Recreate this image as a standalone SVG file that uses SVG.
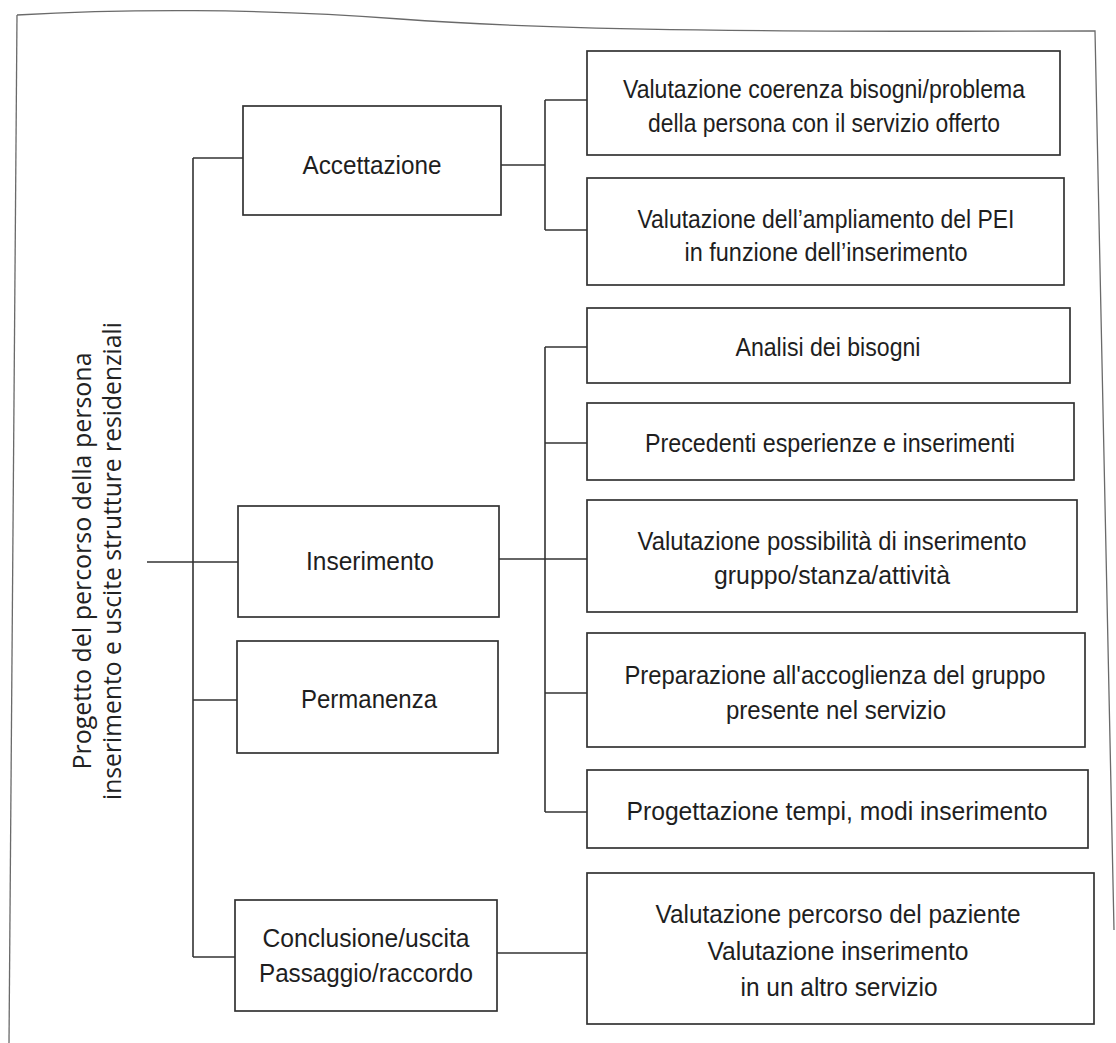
<svg xmlns="http://www.w3.org/2000/svg" width="1116" height="1043" viewBox="0 0 1116 1043">
<style>
.bg{fill:#ffffff}
.frame{fill:none;stroke:#6a6a6a;stroke-width:1.3}
.box{fill:#ffffff;stroke:#333333;stroke-width:1.7}
.con{fill:none;stroke:#333333;stroke-width:1.6}
.t{font-family:"Liberation Sans",Arial,sans-serif;font-size:26px;fill:#1e1e1e;text-anchor:middle;dominant-baseline:central}
.root{font-family:"Open Sans","Noto Sans",sans-serif;font-size:25px;fill:#222222;text-anchor:middle}
</style>
<rect class="bg" x="0" y="0" width="1116" height="1043"/>
<g id="frame">
<path class="frame" d="M17,15 C120,9 260,8 400,19 C560,31 800,32 1095,31 L1114,930"/>
<path class="frame" d="M17,15 L9,1043"/>
</g>
<g id="connectors">
<path class="con" d="M147,562 H238"/>
<path class="con" d="M193,158 V957"/>
<path class="con" d="M193,158 H243"/>
<path class="con" d="M193,700 H237"/>
<path class="con" d="M193,957 H235"/>
<path class="con" d="M501,165 H545"/>
<path class="con" d="M545,100 V230"/>
<path class="con" d="M545,100 H587"/>
<path class="con" d="M545,230 H587"/>
<path class="con" d="M499,559 H587"/>
<path class="con" d="M545,347 V812"/>
<path class="con" d="M545,347 H587"/>
<path class="con" d="M545,443 H587"/>
<path class="con" d="M545,693 H587"/>
<path class="con" d="M545,812 H587"/>
<path class="con" d="M497,953 H587"/>
</g>
<g id="root">
<text class="root" transform="translate(91,561) rotate(-90)" textLength="417" lengthAdjust="spacingAndGlyphs">Progetto del percorso della persona</text>
<text class="root" transform="translate(121,561) rotate(-90)" textLength="478" lengthAdjust="spacingAndGlyphs">inserimento e uscite strutture residenziali</text>
</g>
<g id="accettazione">
<rect class="box" x="243" y="106" width="258" height="109"/>
<text class="t" x="372" y="165" textLength="139" lengthAdjust="spacingAndGlyphs">Accettazione</text>
</g>
<g id="inserimento">
<rect class="box" x="238" y="506" width="261" height="111"/>
<text class="t" x="370" y="561" textLength="128" lengthAdjust="spacingAndGlyphs">Inserimento</text>
</g>
<g id="permanenza">
<rect class="box" x="237" y="641" width="261" height="112"/>
<text class="t" x="369" y="699" textLength="136" lengthAdjust="spacingAndGlyphs">Permanenza</text>
</g>
<g id="conclusione">
<rect class="box" x="235" y="900" width="262" height="111"/>
<text class="t" x="366" y="938" textLength="207" lengthAdjust="spacingAndGlyphs">Conclusione/uscita</text>
<text class="t" x="366" y="973" textLength="214" lengthAdjust="spacingAndGlyphs">Passaggio/raccordo</text>
</g>
<g id="coerenza">
<rect class="box" x="587" y="51" width="473" height="104"/>
<text class="t" x="824" y="89" textLength="402" lengthAdjust="spacingAndGlyphs">Valutazione coerenza bisogni/problema</text>
<text class="t" x="824" y="123" textLength="352" lengthAdjust="spacingAndGlyphs">della persona con il servizio offerto</text>
</g>
<g id="ampliamento">
<rect class="box" x="587" y="178" width="477" height="107"/>
<text class="t" x="826" y="219" textLength="377" lengthAdjust="spacingAndGlyphs">Valutazione dell’ampliamento del PEI</text>
<text class="t" x="826" y="252" textLength="283" lengthAdjust="spacingAndGlyphs">in funzione dell’inserimento</text>
</g>
<g id="analisi">
<rect class="box" x="587" y="308" width="483" height="75"/>
<text class="t" x="828" y="347" textLength="185" lengthAdjust="spacingAndGlyphs">Analisi dei bisogni</text>
</g>
<g id="precedenti">
<rect class="box" x="587" y="403" width="487" height="77"/>
<text class="t" x="830" y="443" textLength="370" lengthAdjust="spacingAndGlyphs">Precedenti esperienze e inserimenti</text>
</g>
<g id="possibilita">
<rect class="box" x="587" y="500" width="490" height="112"/>
<text class="t" x="832" y="541" textLength="389" lengthAdjust="spacingAndGlyphs">Valutazione possibilità di inserimento</text>
<text class="t" x="832" y="575" textLength="236" lengthAdjust="spacingAndGlyphs">gruppo/stanza/attività</text>
</g>
<g id="preparazione">
<rect class="box" x="587" y="633" width="498" height="114"/>
<text class="t" x="835" y="675" textLength="421" lengthAdjust="spacingAndGlyphs">Preparazione all'accoglienza del gruppo</text>
<text class="t" x="836" y="710" textLength="220" lengthAdjust="spacingAndGlyphs">presente nel servizio</text>
</g>
<g id="progettazione">
<rect class="box" x="587" y="770" width="501" height="78"/>
<text class="t" x="837" y="811" textLength="421" lengthAdjust="spacingAndGlyphs">Progettazione tempi, modi inserimento</text>
</g>
<g id="percorso">
<rect class="box" x="587" y="873" width="507" height="151"/>
<text class="t" x="838" y="914" textLength="365" lengthAdjust="spacingAndGlyphs">Valutazione percorso del paziente</text>
<text class="t" x="838" y="951" textLength="261" lengthAdjust="spacingAndGlyphs">Valutazione inserimento</text>
<text class="t" x="839" y="987" textLength="197" lengthAdjust="spacingAndGlyphs">in un altro servizio</text>
</g>
</svg>
